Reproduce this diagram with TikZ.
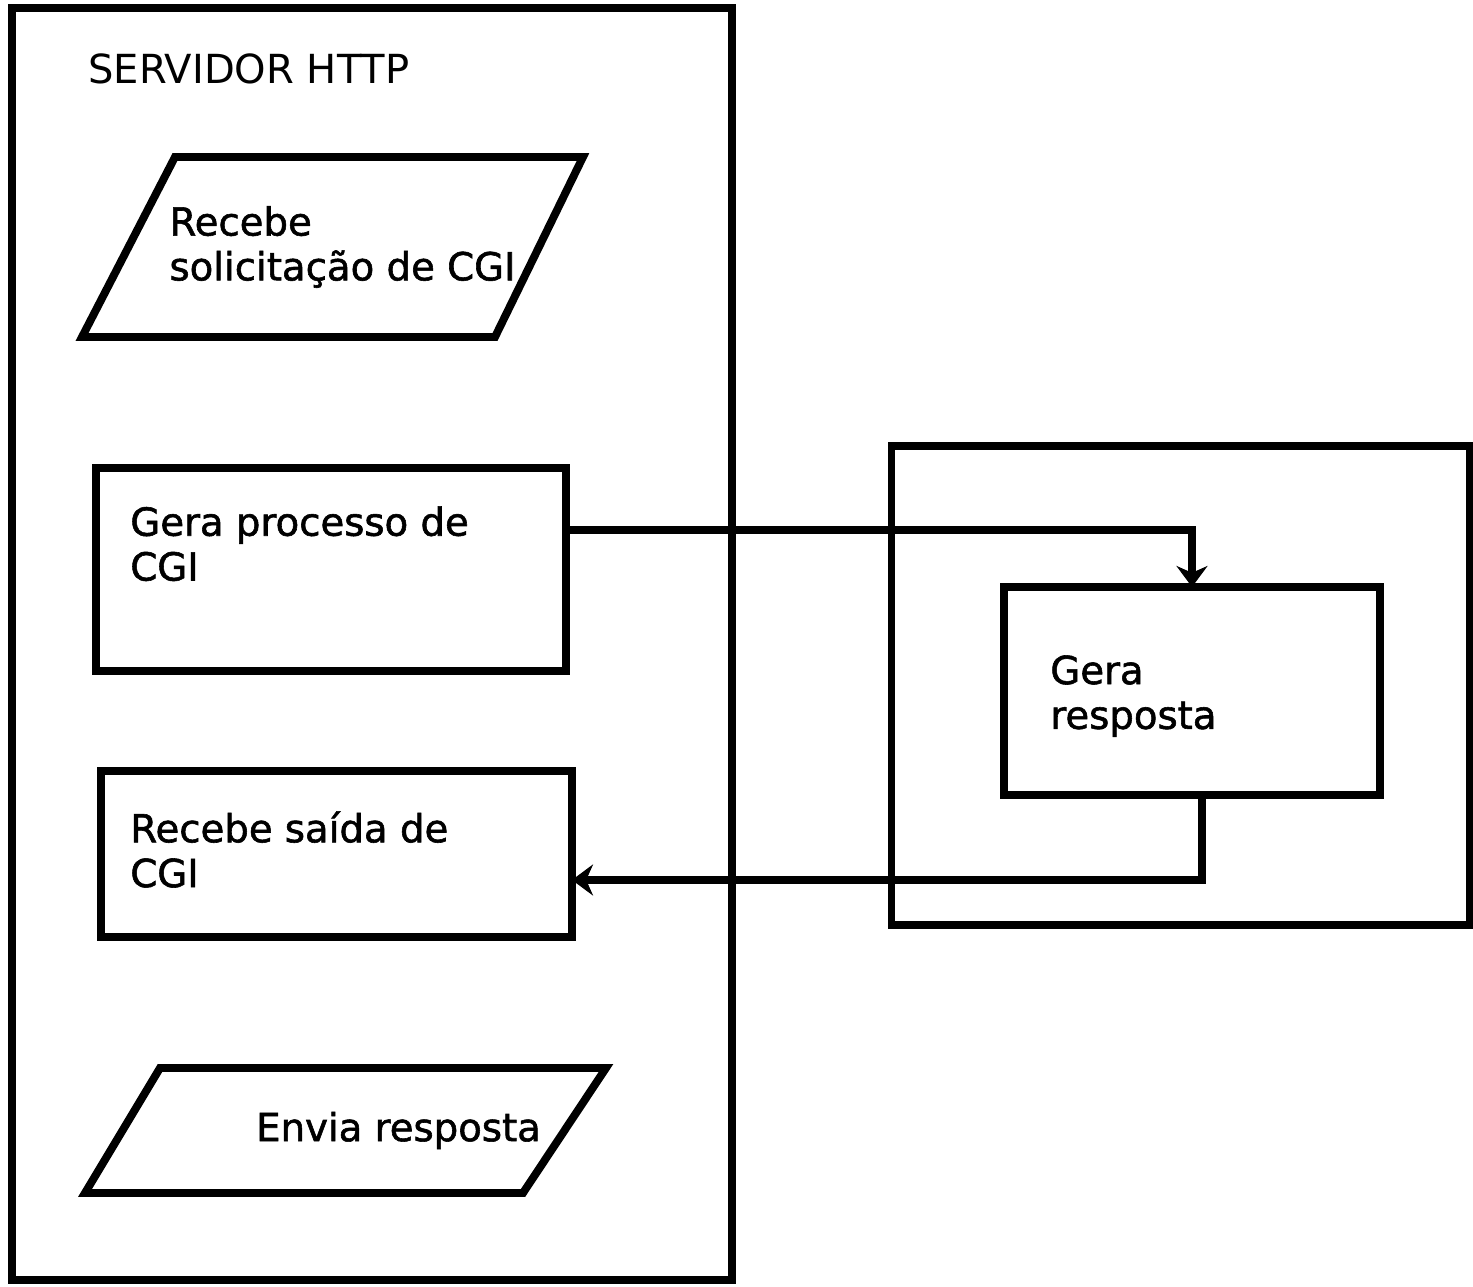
\documentclass[tikz,border=0pt]{standalone}
\usepackage{fontspec}
\setmainfont{DejaVu Sans}
\newfontfamily\boxfont[FakeBold=1.5]{DejaVu Sans}
\usetikzlibrary{shapes.geometric, positioning, arrows.meta}
\tikzstyle{frame} = [rectangle, draw=black, line width=4.5pt, outer sep=0pt, inner sep=0pt]
\tikzstyle{process} = [rectangle, draw=black, line width=4.5pt, outer sep=0pt, inner sep=0pt]
\tikzstyle{io} = [rectangle, outer sep=0pt, inner sep=0pt, align=left, font=\boxfont\fontsize{22}{25.5}\selectfont]
\tikzstyle{slant} = [draw=black, line width=4.5pt, line join=miter]
\tikzstyle{txt} = [inner sep=0pt, align=left, font=\boxfont\fontsize{22}{25.5}\selectfont]
\tikzstyle{arrow} = [line width=4pt, ->, >={Stealth[length=0.42cm, width=0.62cm]}]

\begin{document}
\begin{tikzpicture}[node distance=2cm]
    \useasboundingbox (0,0) rectangle (29.46,25.74);
    \node (server) [frame, minimum width=14.4cm, minimum height=25.44cm] at (7.44,12.86) {};
    \node (title) [inner sep=0pt, anchor=north west, font=\fontsize{22.8}{26}\selectfont] at ([xshift=1.52cm, yshift=-0.9cm]server.north west) {SERVIDOR HTTP};
    \node (recv) [io, minimum width=10.02cm, minimum height=3.6cm] at (6.65,20.8) {\hspace*{0.4cm}Recebe\\\hspace*{0.4cm}solicitação de CGI};
    \draw [slant] ([xshift=1.86cm]recv.north west) -- (recv.north east) -- ([xshift=-1.76cm]recv.south east) -- (recv.south west) -- cycle;
    \node (proc) [process, minimum width=9.4cm, minimum height=4.06cm] at (6.62,14.35) {};
    \node (proctxt) [txt, anchor=north west] at ([xshift=0.68cm, yshift=-0.76cm]proc.north west) {Gera processo de\\CGI};
    \node (out) [process, below of = proc, xshift=0.11cm, yshift=-3.69cm, minimum width=9.42cm, minimum height=3.32cm] {};
    \node (outtxt) [txt, anchor=north west] at ([xshift=0.58cm, yshift=-0.8cm]out.north west) {Recebe saída de\\CGI};
    \node (send) [io, minimum width=10.42cm, minimum height=2.5cm] at (6.91,3.13) {\hspace*{2.12cm}Envia resposta};
    \draw [slant] ([xshift=1.5cm]send.north west) -- (send.north east) -- ([xshift=-1.66cm]send.south east) -- (send.south west) -- cycle;
    % programa CGI
    \node (cgi) [frame, minimum width=11.56cm, minimum height=9.58cm] at (23.61,12.03) {};
    \node (resp) [process, minimum width=7.52cm, minimum height=4.16cm] at (23.84,11.92) {};
    \node (resptxt) [txt, anchor=north west] at ([xshift=0.92cm, yshift=-1.36cm]resp.north west) {Gera\\resposta};
    \draw[arrow] ([yshift=0.79cm]proc.east) -| (resp.north);
    \draw[arrow] ([xshift=0.2cm]resp.south) |- ([yshift=-0.52cm]out.east);
\end{tikzpicture}
\end{document}
